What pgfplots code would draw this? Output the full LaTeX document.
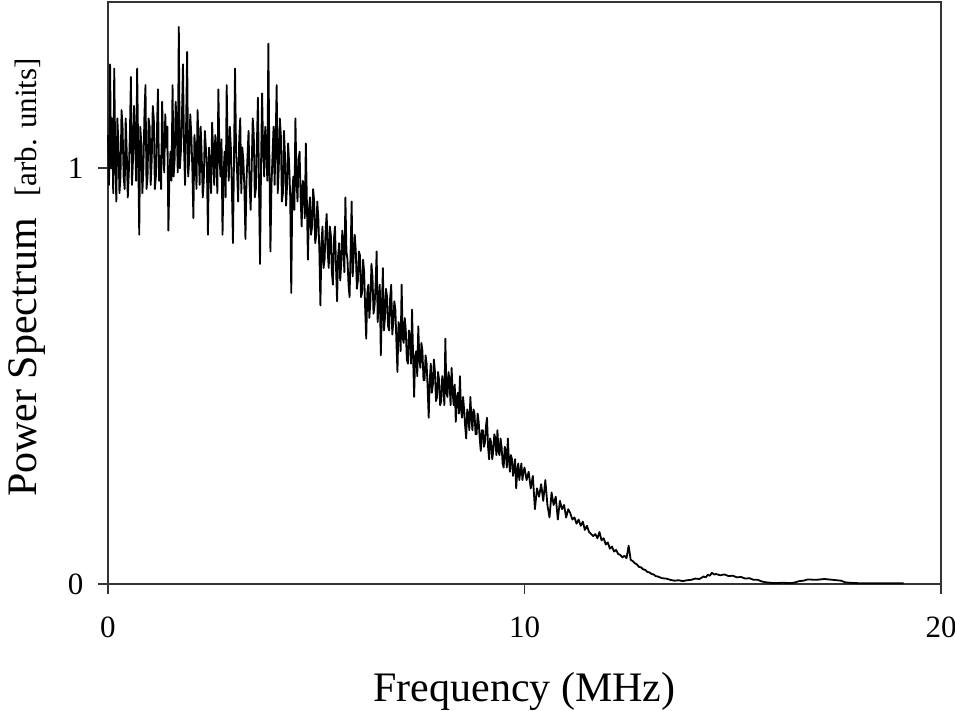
\documentclass[border=0pt]{standalone}
\usepackage{fontspec}
\setmainfont{Liberation Serif}
\usepackage{pgfplots}
\usepackage{pgfplotstable}
\pgfplotsset{compat=1.18}
\pgfplotstableread{
x y
0.000 1.08
0.025 0.96
0.050 1.25
0.075 1.00
0.100 1.12
0.125 0.94
0.150 1.24
0.175 1.02
0.200 0.92
0.225 1.12
0.250 1.06
0.275 0.94
0.300 0.98
0.325 1.14
0.350 1.10
0.375 0.98
0.400 0.95
0.425 1.12
0.450 1.04
0.475 0.93
0.500 0.99
0.525 1.08
0.550 1.22
0.575 0.96
0.600 1.02
0.625 1.15
0.650 1.08
0.675 0.97
0.700 1.24
0.725 1.04
0.750 0.84
0.775 1.10
0.800 1.06
0.825 0.94
0.850 1.00
0.875 1.13
0.900 1.20
0.925 0.95
0.950 0.98
0.975 1.12
1.000 1.10
1.025 0.96
1.050 1.02
1.075 1.15
1.100 1.12
1.125 0.95
1.150 0.98
1.175 1.09
1.200 1.19
1.225 0.97
1.250 1.03
1.275 0.95
1.300 1.16
1.325 1.05
1.350 0.99
1.375 1.13
1.400 1.05
1.425 1.10
1.450 0.85
1.475 0.98
1.500 1.04
1.525 0.97
1.550 1.20
1.575 0.98
1.600 1.02
1.625 1.16
1.650 1.10
1.675 0.99
1.700 1.34
1.725 1.00
1.750 1.04
1.775 1.12
1.800 1.25
1.825 1.05
1.850 0.96
1.875 1.10
1.900 1.28
1.925 0.98
1.950 1.02
1.975 1.13
2.000 1.08
2.025 1.00
2.050 0.88
2.075 1.08
2.100 1.04
2.125 0.95
2.150 1.14
2.175 1.06
2.200 0.96
2.225 1.10
2.250 1.03
2.275 0.93
2.300 0.97
2.325 1.09
2.350 1.05
2.375 1.00
2.400 0.84
2.425 1.05
2.450 1.00
2.475 0.94
2.500 1.11
2.525 1.04
2.550 0.96
2.575 1.08
2.600 1.03
2.625 0.94
2.650 1.19
2.675 1.04
2.700 0.98
2.725 1.07
2.750 0.84
2.775 0.99
2.800 1.04
2.825 0.93
2.850 1.20
2.875 1.03
2.900 0.97
2.925 1.10
2.950 1.05
2.975 0.95
3.000 0.82
3.025 1.02
3.050 1.24
3.075 1.04
3.100 0.99
3.125 0.92
3.150 1.07
3.175 1.12
3.200 0.94
3.225 1.05
3.250 1.02
3.275 0.95
3.300 0.83
3.325 0.97
3.350 1.03
3.375 1.09
3.400 0.96
3.425 0.90
3.450 1.00
3.475 1.12
3.500 1.08
3.525 0.93
3.550 0.95
3.575 1.06
3.600 1.17
3.625 0.96
3.650 0.77
3.675 1.01
3.700 1.18
3.725 1.04
3.750 0.98
3.775 1.10
3.800 1.05
3.825 0.97
3.850 1.30
3.875 1.02
3.900 0.80
3.925 0.96
3.950 1.03
3.975 1.10
4.000 0.96
4.025 1.07
4.050 1.20
4.075 0.94
4.100 1.00
4.125 1.12
4.150 1.08
4.175 0.92
4.200 0.94
4.225 1.09
4.250 1.03
4.275 0.91
4.300 0.96
4.325 1.06
4.350 1.01
4.375 0.93
4.400 0.70
4.425 0.94
4.450 0.98
4.475 0.90
4.500 1.12
4.525 0.98
4.550 0.92
4.575 1.02
4.600 1.04
4.625 0.93
4.650 0.86
4.675 0.97
4.700 0.96
4.725 0.88
4.750 1.06
4.775 0.92
4.800 0.78
4.825 0.90
4.850 0.93
4.875 0.84
4.900 0.86
4.925 0.95
4.950 0.92
4.975 0.82
5.000 0.84
5.025 0.92
5.050 0.88
5.075 0.80
5.100 0.67
5.125 0.82
5.150 0.86
5.175 0.76
5.200 0.78
5.225 0.85
5.250 0.89
5.275 0.80
5.300 0.76
5.325 0.86
5.350 0.84
5.375 0.75
5.400 0.72
5.425 0.83
5.450 0.86
5.475 0.76
5.500 0.68
5.525 0.79
5.550 0.82
5.575 0.73
5.600 0.77
5.625 0.85
5.650 0.81
5.675 0.75
5.700 0.93
5.725 0.80
5.750 0.78
5.775 0.72
5.800 0.69
5.825 0.80
5.850 0.92
5.875 0.74
5.900 0.79
5.925 0.84
5.950 0.80
5.975 0.71
6.000 0.73
6.025 0.80
6.050 0.79
6.075 0.69
6.100 0.70
6.125 0.78
6.150 0.75
6.175 0.66
6.200 0.59
6.225 0.70
6.250 0.72
6.275 0.64
6.300 0.68
6.325 0.77
6.350 0.74
6.375 0.65
6.400 0.67
6.425 0.72
6.450 0.80
6.475 0.63
6.500 0.68
6.525 0.72
6.550 0.55
6.575 0.66
6.600 0.76
6.625 0.61
6.650 0.64
6.675 0.71
6.700 0.69
6.725 0.62
6.750 0.61
6.775 0.69
6.800 0.72
6.825 0.60
6.850 0.63
6.875 0.68
6.900 0.66
6.925 0.58
6.950 0.51
6.975 0.63
7.000 0.62
7.025 0.56
7.050 0.72
7.075 0.59
7.100 0.58
7.125 0.64
7.150 0.61
7.175 0.54
7.200 0.53
7.225 0.61
7.250 0.59
7.275 0.53
7.300 0.66
7.325 0.55
7.350 0.45
7.375 0.55
7.400 0.56
7.425 0.50
7.450 0.62
7.475 0.54
7.500 0.52
7.525 0.58
7.550 0.56
7.575 0.49
7.600 0.49
7.625 0.55
7.650 0.53
7.675 0.47
7.700 0.40
7.725 0.49
7.750 0.53
7.775 0.46
7.800 0.48
7.825 0.54
7.850 0.51
7.875 0.44
7.900 0.45
7.925 0.51
7.950 0.49
7.975 0.43
8.000 0.44
8.025 0.50
8.050 0.48
8.075 0.43
8.100 0.59
8.125 0.46
8.150 0.45
8.175 0.51
8.200 0.49
8.225 0.43
8.250 0.52
8.275 0.46
8.300 0.43
8.325 0.48
8.350 0.39
8.375 0.45
8.400 0.46
8.425 0.41
8.450 0.50
8.475 0.42
8.500 0.40
8.525 0.45
8.550 0.42
8.575 0.38
8.600 0.35
8.625 0.42
8.650 0.41
8.675 0.37
8.700 0.45
8.725 0.40
8.750 0.37
8.775 0.42
8.800 0.41
8.825 0.36
8.850 0.36
8.875 0.41
8.900 0.39
8.925 0.35
8.950 0.32
8.975 0.37
9.000 0.37
9.025 0.33
9.050 0.34
9.075 0.38
9.100 0.40
9.125 0.33
9.150 0.30
9.175 0.35
9.200 0.34
9.225 0.30
9.250 0.32
9.275 0.36
9.300 0.35
9.325 0.31
9.350 0.37
9.375 0.32
9.400 0.31
9.425 0.35
9.450 0.33
9.475 0.29
9.500 0.28
9.525 0.33
9.550 0.32
9.575 0.28
9.600 0.35
9.625 0.30
9.650 0.27
9.675 0.31
9.700 0.30
9.725 0.26
9.750 0.28
9.775 0.30
9.800 0.23
9.825 0.27
9.850 0.29
9.875 0.25
9.900 0.27
9.925 0.29
9.950 0.25
9.975 0.27
10.00 0.28
10.05 0.25
10.10 0.27
10.15 0.23
10.20 0.26
10.25 0.18
10.30 0.23
10.35 0.21
10.40 0.24
10.45 0.20
10.50 0.25
10.55 0.19
10.60 0.16
10.65 0.22
10.70 0.19
10.75 0.21
10.80 0.155
10.85 0.20
10.90 0.18
10.95 0.19
11.00 0.16
11.05 0.18
11.10 0.17
11.15 0.155
11.20 0.16
11.25 0.145
11.30 0.155
11.35 0.14
11.40 0.15
11.45 0.13
11.50 0.14
11.55 0.125
11.60 0.12
11.65 0.115
11.70 0.12
11.75 0.11
11.80 0.125
11.85 0.105
11.90 0.11
11.95 0.095
12.00 0.10
12.05 0.085
12.10 0.09
12.15 0.078
12.20 0.082
12.25 0.072
12.30 0.07
12.35 0.064
12.40 0.068
12.45 0.062
12.50 0.092
12.55 0.058
12.60 0.055
12.65 0.05
12.70 0.047
12.75 0.041
12.80 0.040
12.85 0.035
12.90 0.034
12.95 0.029
13.00 0.028
13.05 0.024
13.10 0.023
13.15 0.019
13.20 0.018
13.30 0.014
13.40 0.013
13.50 0.010
13.60 0.008
13.70 0.009
13.80 0.007
13.90 0.009
14.00 0.010
14.10 0.013
14.20 0.012
14.30 0.018
14.35 0.016
14.40 0.022
14.45 0.020
14.50 0.027
14.55 0.023
14.60 0.024
14.70 0.021
14.80 0.023
14.90 0.019
15.00 0.020
15.10 0.016
15.20 0.017
15.30 0.013
15.40 0.014
15.50 0.010
15.60 0.010
15.70 0.006
15.80 0.004
15.90 0.003
16.00 0.002
16.20 0.003
16.40 0.002
16.50 0.004
16.60 0.007
16.70 0.008
16.80 0.011
17.00 0.010
17.20 0.012
17.40 0.010
17.60 0.008
17.70 0.004
17.80 0.003
18.00 0.002
18.50 0.002
19.10 0.002
}\spectrum
\begin{document}
\begin{tikzpicture}
\path[use as bounding box] (-108pt,-127pt) rectangle (847pt,584pt);
\begin{axis}[
  at={(0pt,0pt)}, anchor=south west,
  width=833pt, height=582pt, scale only axis,
  xmin=0, xmax=20, ymin=0, ymax=1.4,
  xtick={0,10,20}, ytick={0,1},
  tick pos=left, tick align=outside,
  major tick length=10pt,
  every tick/.style={line width=1.6pt, black!80},
  axis line style={line width=1.6pt, black!80},
  /pgf/number format/assume math mode=true,
  tick label style={font=\fontsize{31}{31}\selectfont},
  xticklabel style={yshift=-19pt},
  yticklabel style={xshift=-11pt},
  xlabel={Frequency (MHz)},
  xlabel style={at={(axis description cs:0.5,0)}, anchor=base, yshift=-117pt, inner sep=0pt, font=\fontsize{42}{42}\selectfont},
  clip=false,
]
\addplot[black, line width=1.8pt, line join=round] table[x=x, y=y] {\spectrum};
\end{axis}
\node[rotate=90, anchor=base west, inner sep=0pt, font=\fontsize{42}{42}\selectfont] at (-71pt,87pt) {Power Spectrum};
\node[rotate=90, anchor=base west, inner sep=0pt, font=\fontsize{31}{31}\selectfont] at (-71pt,387pt) {[arb. units]};
\end{tikzpicture}
\end{document}
